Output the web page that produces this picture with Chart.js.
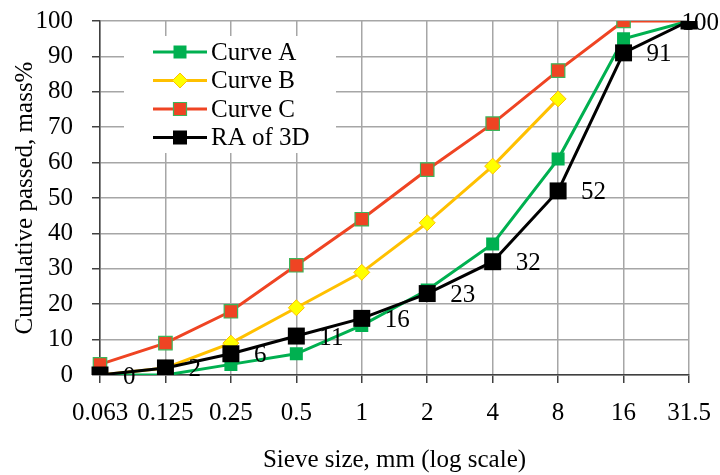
<!DOCTYPE html>
<html>
<head>
<meta charset="utf-8">
<title>Sieve grading curves</title>
<script src="https://cdn.jsdelivr.net/npm/chart.js@4.4.1/dist/chart.umd.min.js"></script>
<style>
  html, body { margin: 0; padding: 0; background: #fff; }
  #wrap { width: 720px; height: 475px; }
</style>
</head>
<body>
<div id="wrap"><canvas id="gradingChart" width="720" height="475"></canvas></div>
<script>
// Sieve sizes in mm (evenly spaced, i.e. log scale)
const sieveSizes = ['0.063', '0.125', '0.25', '0.5', '1', '2', '4', '8', '16', '31.5'];

// Cumulative passed, mass%
const curveA = [0, 0, 3, 6, 14, 24, 37, 61, 95, 100];
const curveB = [0, 2, 9, 19, 29, 43, 59, 78, null, null];
const curveC = [3, 9, 18, 31, 44, 58, 71, 86, 100, 100];
const ra3D = [0, 2, 6, 11, 16, 23, 32, 52, 91, 100];

const seriesNames = ['Curve A', 'Curve B', 'Curve C', 'RA of 3D'];

const FONT = "'Liberation Serif', 'Times New Roman', serif";
const GRID = '#a6a6a6';
const AXIS = '#404040';

// Legend drawn inside the plot: line sample with the marker in its middle
const innerLegend = {
    id: 'innerLegend',
    afterDraw(chart) {
        const ctx = chart.ctx;
        const area = chart.chartArea;
        const left = area.left + 24;
        const top = area.top + 15;
        ctx.save();
        ctx.fillStyle = '#fff';
        ctx.fillRect(left, top, 212, 117);

        chart.data.datasets.forEach((ds, i) => {
            const y = top + 16 + i * 28.5;
            const x0 = left + 29;
            const xm = x0 + 27;
            ctx.strokeStyle = ds.borderColor;
            ctx.lineWidth = 3;
            ctx.beginPath();
            ctx.moveTo(x0, y);
            ctx.lineTo(x0 + 54, y);
            ctx.stroke();

            const r = ds.legendMarker;
            ctx.fillStyle = ds.pointBackgroundColor;
            ctx.strokeStyle = ds.pointBorderColor;
            ctx.lineWidth = ds.pointBorderWidth;
            ctx.beginPath();
            if (ds.pointStyle === 'rectRot') {
                ctx.moveTo(xm, y - r);
                ctx.lineTo(xm + r, y);
                ctx.lineTo(xm, y + r);
                ctx.lineTo(xm - r, y);
                ctx.closePath();
            } else {
                ctx.rect(xm - r, y - r, 2 * r, 2 * r);
            }
            ctx.fill();
            if (ds.pointBorderWidth > 0) ctx.stroke();

            ctx.fillStyle = '#000';
            ctx.font = '25px ' + FONT;
            ctx.textAlign = 'left';
            ctx.textBaseline = 'middle';
            ctx.fillText(ds.label, left + 87, y + 1);
        });
        ctx.restore();
    }
};

// Value labels to the right of the RA of 3D markers
const raLabels = {
    id: 'raLabels',
    afterDatasetsDraw(chart) {
        const idx = chart.data.datasets.findIndex(d => d.label === 'RA of 3D');
        const meta = chart.getDatasetMeta(idx);
        const ctx = chart.ctx;
        ctx.save();
        ctx.font = '25px ' + FONT;
        ctx.fillStyle = '#000';
        ctx.textAlign = 'left';
        ctx.textBaseline = 'middle';
        meta.data.forEach((pt, i) => {
            const text = String(ra3D[i]);
            const w = ctx.measureText(text).width;
            let x = pt.x + 23;
            if (x + w > chart.width - 1) x = chart.width - 1 - w;
            ctx.fillText(text, x, pt.y + 2);
        });
        ctx.restore();
    }
};

function series(label, data, color, opts) {
    return Object.assign({
        label: label,
        data: data,
        borderColor: color,
        backgroundColor: color,
        borderWidth: 3,
        tension: 0,
        spanGaps: false,
        pointStyle: 'rect',
        pointBackgroundColor: color,
        pointBorderColor: color,
        pointBorderWidth: 0,
        pointHoverRadius: 0
    }, opts);
}

// fixed axis band sizes; label overhang is covered by the layout padding
function fixBand(prop, size) {
    return scale => {
        scale[prop] = size;
        scale.paddingTop = 0;
        scale.paddingBottom = 0;
        scale.paddingLeft = 0;
        scale.paddingRight = 0;
    };
}

const ctx = document.getElementById('gradingChart').getContext('2d');
new Chart(ctx, {
    type: 'line',
    data: {
        labels: sieveSizes,
        datasets: [
            series(seriesNames[0], curveA, '#00b050', { pointRadius: 9.2, order: 1, legendMarker: 6.5 }),
            series(seriesNames[1], curveB, '#ffc000', {
                pointStyle: 'rectRot', pointRadius: 8, pointBackgroundColor: '#ffff00',
                pointBorderColor: '#ffc000', pointBorderWidth: 1, order: 2, legendMarker: 7.5
            }),
            series(seriesNames[2], curveC, '#ef4423', {
                pointRadius: 9.5, pointBorderColor: '#3cb55a', pointBorderWidth: 1.2, order: 3, legendMarker: 6.5
            }),
            series(seriesNames[3], ra3D, '#000000', { pointRadius: 12, order: 0, legendMarker: 7 })
        ]
    },
    options: {
        responsive: false,
        animation: false,
        layout: { padding: { top: 21, right: 31, left: 0, bottom: 0 } },
        plugins: {
            legend: { display: false },
            tooltip: { enabled: false }
        },
        scales: {
            x: {
                type: 'category',
                offset: false,
                afterFit: fixBand('height', 100),
                grid: { color: GRID, lineWidth: 1.5, tickColor: AXIS, tickLength: 8, drawTicks: true },
                border: { color: AXIS, width: 1.5 },
                ticks: { color: '#000', font: { family: FONT, size: 25 }, padding: 15, maxRotation: 0, autoSkip: false },
                title: {
                    display: true,
                    text: 'Sieve size, mm (log scale)',
                    color: '#000',
                    font: { family: FONT, size: 25 },
                    padding: { top: 0, bottom: 0 }
                }
            },
            y: {
                min: 0,
                max: 100,
                afterFit: fixBand('width', 100),
                grid: { color: GRID, lineWidth: 1.5, tickColor: AXIS, tickLength: 8 },
                border: { color: AXIS, width: 1.5 },
                ticks: { stepSize: 10, color: '#000', font: { family: FONT, size: 25 }, padding: 19 },
                title: {
                    display: true,
                    text: 'Cumulative passed, mass%',
                    color: '#000',
                    font: { family: FONT, size: 25 },
                    padding: { top: 10, bottom: 0 }
                }
            }
        }
    },
    plugins: [innerLegend, raLabels]
});
</script>
</body>
</html>
